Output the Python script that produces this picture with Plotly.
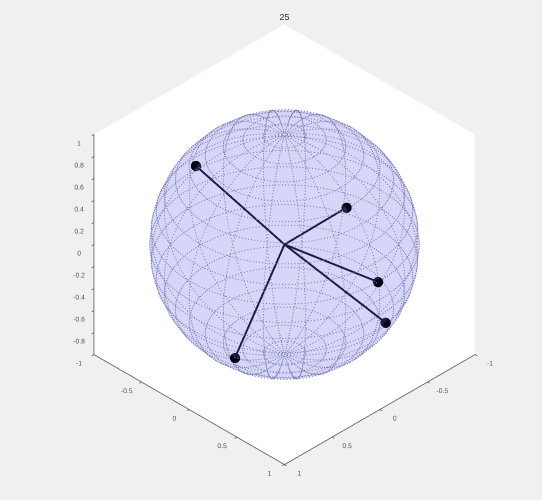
import numpy as np
import plotly.graph_objects as go

vec_x = [0.50, 0.05, 0.01, -0.11, 0.83]
vec_y = [-0.43, 0.70, 0.99, 0.95, 0.31]
vec_z = [0.75, 0.71, 0.16, -0.29, -0.46]
xy_ticks = [-1, -0.5, 0, 0.5, 1]
z_ticks = [-1, -0.8, -0.6, -0.4, -0.2, 0, 0.2, 0.4, 0.6, 0.8, 1]
title = "25"
mesh_n = 20
zoom = 1.107

theta = np.linspace(-np.pi, np.pi, 73)
phi = np.linspace(-np.pi / 2, np.pi / 2, 37)
T, P = np.meshgrid(theta, phi)
fig = go.Figure()
fig.add_trace(go.Surface(
    x=np.cos(P) * np.cos(T), y=np.cos(P) * np.sin(T), z=np.sin(P),
    surfacecolor=np.zeros_like(T), colorscale=[[0, "rgb(140,140,235)"], [1, "rgb(140,140,235)"]],
    showscale=False, opacity=0.2, hoverinfo="skip",
    lighting=dict(ambient=1, diffuse=0, specular=0, fresnel=0),
))
lx, ly, lz = [], [], []
step = 0.024
for t in np.linspace(-np.pi, np.pi, mesh_n + 1)[:-1]:
    p = np.arange(-np.pi / 2, np.pi / 2, step)
    lx += list(np.cos(p) * np.cos(t))
    ly += list(np.cos(p) * np.sin(t))
    lz += list(np.sin(p))
for a in np.linspace(-np.pi / 2, np.pi / 2, mesh_n + 1)[1:-1]:
    t = np.arange(-np.pi, np.pi, step / max(np.cos(a), 0.1))
    lx += list(np.cos(a) * np.cos(t))
    ly += list(np.cos(a) * np.sin(t))
    lz += list(np.full_like(t, np.sin(a)))
fig.add_trace(go.Scatter3d(x=lx, y=ly, z=lz, mode="markers", hoverinfo="skip", showlegend=False,
                           marker=dict(color="rgb(125,125,175)", size=0.7, line=dict(width=0))))
for x, y, z in zip(vec_x, vec_y, vec_z):
    fig.add_trace(go.Scatter3d(x=[0, x], y=[0, y], z=[0, z], mode="lines", showlegend=False,
                               line=dict(color="#00001a", width=4)))
fig.add_trace(go.Scatter3d(x=vec_x, y=vec_y, z=vec_z, mode="markers", showlegend=False,
                           marker=dict(color="#000010", size=6)))

def axis(vals):
    return dict(range=[-1, 1], tickvals=vals, ticktext=[f"{v:g}" for v in vals], title="",
                showgrid=False, zeroline=False, showbackground=True, backgroundcolor="white",
                showline=True, linecolor="#666666", linewidth=2, ticks="outside", ticklen=3,
                tickcolor="#666666", tickwidth=2, tickangle=0,
                tickfont=dict(size=9, color="#555555", family="Liberation Sans"),
                showspikes=False)

fig.update_layout(
    width=542, height=500, paper_bgcolor="#f0f0f0", margin=dict(l=0, r=0, t=0, b=0),
    title=dict(text=title, x=0.525, y=0.966, xanchor="center", yanchor="middle",
               font=dict(size=9, color="#333333", family="Liberation Sans")),
    showlegend=False,
    scene=dict(
        xaxis=axis(xy_ticks), yaxis=axis(xy_ticks), zaxis=axis(z_ticks),
        aspectmode="manual", aspectratio=dict(x=zoom, y=zoom, z=zoom),
        camera=dict(eye=dict(x=1.25, y=1.25, z=1.25), projection=dict(type="orthographic"),
                    center=dict(x=0, y=0, z=0)),
        domain=dict(x=[0.05, 1.0], y=[0.024, 0.998]),
    ),
)
fig.write_html("out.html", config={"displayModeBar": False},
               post_script="document.documentElement.style.background='#f0f0f0';document.body.style.margin='0';document.body.style.background='#f0f0f0';")
